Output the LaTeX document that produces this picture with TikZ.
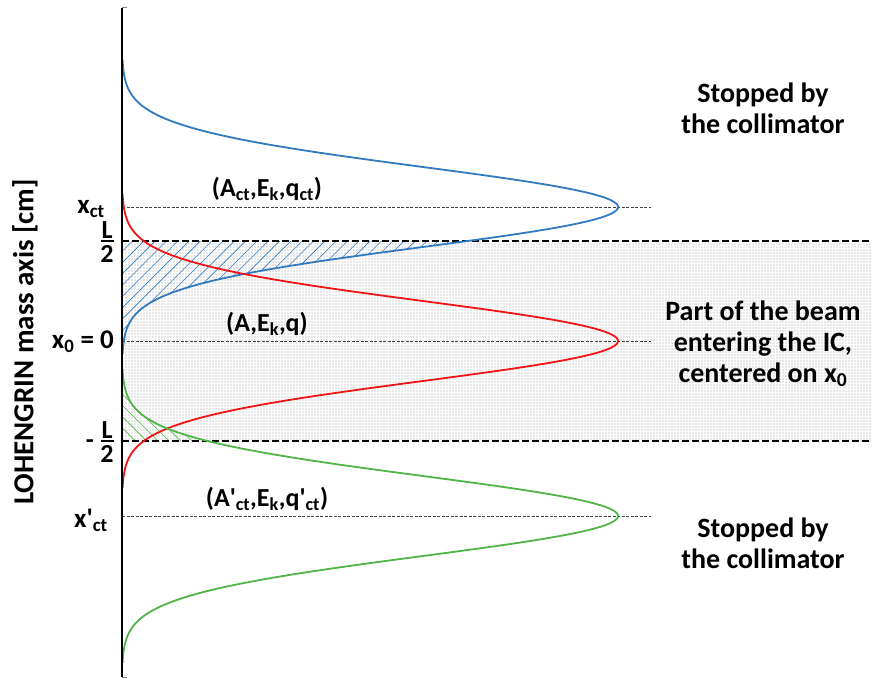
\documentclass[tikz,border=0pt]{standalone}
\usepackage{amsmath}
\usepackage{fontspec}
\setmainfont{Carlito}
\usetikzlibrary{patterns.meta}
\definecolor{curveblue}{RGB}{50,122,192}
\definecolor{curvered}{RGB}{240,20,20}
\definecolor{curvegreen}{RGB}{80,180,70}
\newcommand{\lowr}[1]{\textsubscript{#1}}
% peak position of each beam on the screen
\newcommand{\gausx}[1]{122+496*exp(-0.5*((#1)/40)*((#1)/40))}

\begin{document}
\begin{tikzpicture}[x=1pt, y=-1pt,
  curve/.style={line width=1.8pt},
  limit/.style={line width=1.4pt, dash pattern=on 7pt off 3pt},
  peakline/.style={line width=0.7pt, draw=black!75, dash pattern=on 3pt off 1.5pt},
  axislabel/.style={font=\fontsize{27}{30}\selectfont\bfseries, anchor=east, inner sep=0pt},
  fraclabel/.style={font=\fontsize{26}{28}\selectfont\bfseries, inner sep=0pt},
  fracbar/.style={line width=1.6pt},
  beamlabel/.style={font=\fontsize{26}{28}\selectfont\bfseries, inner sep=0pt},
  sidetext/.style={font=\fontsize{28}{31}\selectfont\bfseries, align=center, inner sep=0pt},
]
\useasboundingbox (0,0) rectangle (872,679);

% IC acceptance
\fill[pattern={Dots[radius=0.55pt, distance=3pt]}, pattern color=black!40] (122,241) rectangle (872,441);

% Hatched tails
\fill[pattern={Lines[angle=45, distance=8pt, line width=0.6pt]}, pattern color=curveblue]
  (122,241) -- plot[domain=34:147, samples=80, variable=\t] ({\gausx{\t}}, {207+\t}) -- (122,354) -- cycle;
\fill[pattern={Lines[angle=-45, distance=8pt, line width=0.6pt]}, pattern color=curvegreen]
  (122,369) -- plot[domain=-147:-75, samples=60, variable=\t] ({\gausx{\t}}, {516+\t}) -- (122,441) -- cycle;

% Limits
\coordinate (Ltop) at (122,241);
\coordinate (Ltopend) at (872,241);
\coordinate (Lbot) at (122,441);
\coordinate (Lbotend) at (872,441);
\draw[limit] (Ltop) -- (Ltopend);
\draw[limit] (Lbot) -- (Lbotend);

% Peak lines
\coordinate (pct) at (122,207);
\coordinate (pctend) at (651,207);
\coordinate (pzero) at (122,341);
\coordinate (pzeroend) at (651,341);
\coordinate (pprime) at (122,516);
\coordinate (pprimeend) at (651,516);
\draw[peakline] (pct) -- (pctend);
\draw[peakline] (pzero) -- (pzeroend);
\draw[peakline] (pprime) -- (pprimeend);

% Beams
\draw[curve, curveblue] plot[domain=-147:147, samples=150, variable=\t] ({\gausx{\t}}, {207+\t});
\draw[curve, curvered] plot[domain=-147:147, samples=150, variable=\t] ({\gausx{\t}}, {341+\t});
\draw[curve, curvegreen] plot[domain=-147:147, samples=150, variable=\t] ({\gausx{\t}}, {516+\t});

% Axis
\coordinate (axtop) at (122,8);
\coordinate (axbot) at (122,677);
\draw[line width=1.3pt] (axtop) -- (axbot);
\draw[line width=1pt, black!50] (axtop) -- ++(5,0);
\draw[line width=1pt, black!50] (axbot) -- ++(5,0);

% Axis labels
\node[rotate=90, font=\fontsize{29}{31}\selectfont\bfseries] (axtitle) at (25,342) {LOHENGRIN mass axis [cm]};
\node[axislabel] (xct) at (105,209) {x\lowr{ct}};
\node[axislabel] (xzero) at (114,342) {x\lowr{0} = 0};
\node[axislabel] (xprime) at (108,520) {x\textquotesingle\lowr{ct}};

% L/2 and -L/2
\node[fraclabel, anchor=south] (Lnum) at (107,238.5) {L};
\node[fraclabel, anchor=north] (Lden) at (107,245) {2};
\draw[fracbar] ([xshift=-6.5pt]Lnum.south |- Ltop) -- ([xshift=6.5pt]Lnum.south |- Ltop);
\node[fraclabel, anchor=south] (mLnum) at (107,438.5) {L};
\node[fraclabel, anchor=north] (mLden) at (107,445) {2};
\draw[fracbar] ([xshift=-6.5pt]mLnum.south |- Lbot) -- ([xshift=6.5pt]mLnum.south |- Lbot);
\node[fraclabel, anchor=base east] (minus) at (94,448) {-};

% Beam labels
\node[beamlabel] (ctlabel) at (267,189) {(A\lowr{ct},E\lowr{k},q\lowr{ct})};
\node[beamlabel] (mainlabel) at (267,324) {(A,E\lowr{k},q)};
\node[beamlabel] (primelabel) at (267,499) {(A\textquotesingle\lowr{ct},E\lowr{k},q\textquotesingle\lowr{ct})};

% Side texts
\node[sidetext] (topside) at (763,108) {Stopped by\\the collimator};
\node[sidetext] (midside) at (763,344) {Part of the beam\\entering the IC,\\centered on x\lowr{0}};
\node[sidetext] (botside) at (763,543) {Stopped by\\the collimator};
\end{tikzpicture}
\end{document}
